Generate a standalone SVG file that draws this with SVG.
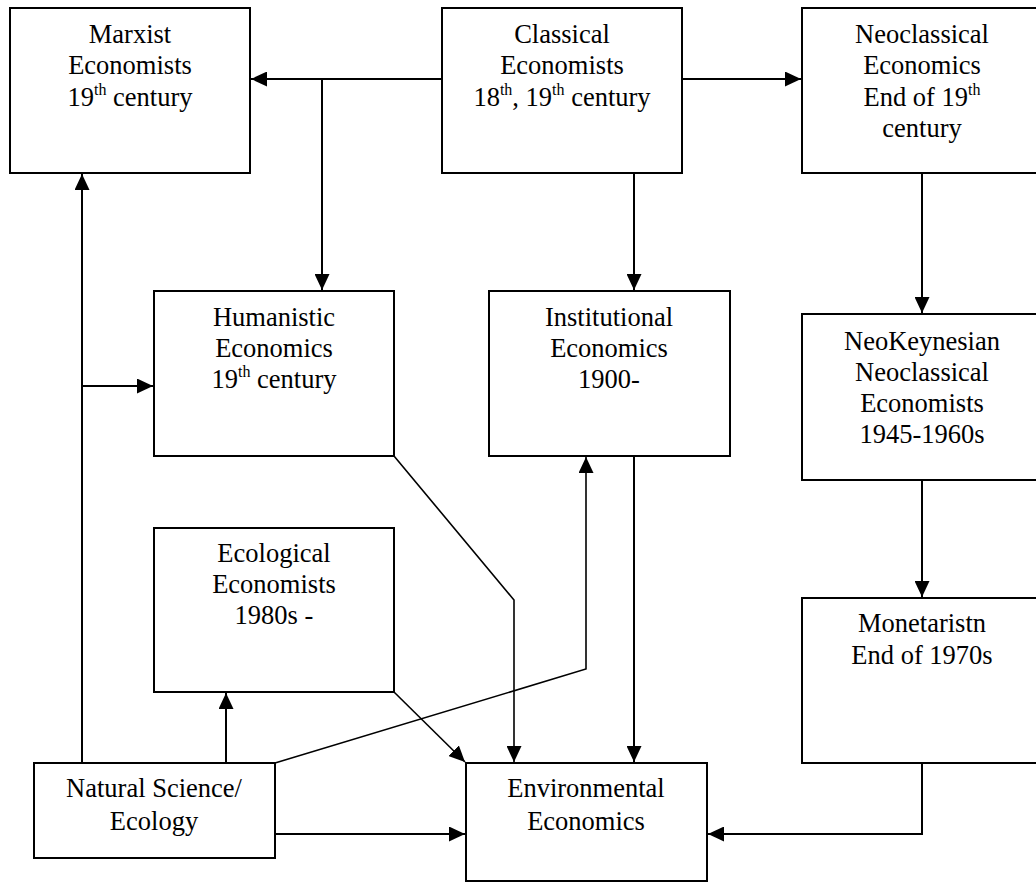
<svg xmlns="http://www.w3.org/2000/svg" width="1036" height="882" viewBox="0 0 1036 882">
<style>
.box{fill:#fff;stroke:#000;stroke-width:2}
.lbl{font-family:'Liberation Serif',serif;font-size:26.5px;fill:#000;text-anchor:middle}
.sup{font-size:16px}
.con{fill:none;stroke:#000;stroke-width:2}
.diag{fill:none;stroke:#000;stroke-width:1.6}
</style>
<defs>
<marker id="ah" markerUnits="userSpaceOnUse" markerWidth="16" markerHeight="15" refX="16" refY="7.5" orient="auto" viewBox="0 0 16 15">
<path d="M0,0 L16,7.5 L0,15 z" fill="#000"/>
</marker>
</defs>
<rect width="1036" height="882" fill="#fff"/>
<g id="connectors">
<path class="con" d="M442,79 H251" marker-end="url(#ah)"/>
<path class="con" d="M322,79 V290" marker-end="url(#ah)"/>
<path class="con" d="M682,79 H801" marker-end="url(#ah)"/>
<path class="con" d="M634,173 V290" marker-end="url(#ah)"/>
<path class="con" d="M922,173 V313" marker-end="url(#ah)"/>
<path class="con" d="M922,480 V597" marker-end="url(#ah)"/>
<path class="con" d="M922,763 V834 H708" marker-end="url(#ah)"/>
<path class="con" d="M82,763 V174" marker-end="url(#ah)"/>
<path class="con" d="M82,386 H153" marker-end="url(#ah)"/>
<path class="con" d="M226,763 V693" marker-end="url(#ah)"/>
<path class="diag" d="M275,763 L586,669 V457" marker-end="url(#ah)"/>
<path class="diag" d="M394,456 L514,600 V762" marker-end="url(#ah)"/>
<path class="diag" d="M394,692 L465,762" marker-end="url(#ah)"/>
<path class="con" d="M275,834 H465" marker-end="url(#ah)"/>
<path class="con" d="M634,456 V762" marker-end="url(#ah)"/>
</g>
<g id="marxist">
<rect class="box" x="10" y="8" width="240" height="165"/>
<text class="lbl" x="130" y="43">Marxist</text>
<text class="lbl" x="130" y="74">Economists</text>
<text class="lbl" x="130" y="106">19<tspan class="sup" dy="-11">th</tspan><tspan dy="11"> century</tspan></text>
</g>
<g id="classical">
<rect class="box" x="442" y="8" width="240" height="165"/>
<text class="lbl" x="562" y="43">Classical</text>
<text class="lbl" x="562" y="74">Economists</text>
<text class="lbl" x="562" y="106">18<tspan class="sup" dy="-11">th</tspan><tspan dy="11">, 19</tspan><tspan class="sup" dy="-11">th</tspan><tspan dy="11"> century</tspan></text>
</g>
<g id="neoclassical">
<rect class="box" x="802" y="8" width="240" height="165"/>
<text class="lbl" x="922" y="43">Neoclassical</text>
<text class="lbl" x="922" y="74">Economics</text>
<text class="lbl" x="922" y="106">End of 19<tspan class="sup" dy="-11">th</tspan></text>
<text class="lbl" x="922" y="137">century</text>
</g>
<g id="humanistic">
<rect class="box" x="154" y="291" width="240" height="165"/>
<text class="lbl" x="274" y="326">Humanistic</text>
<text class="lbl" x="274" y="357">Economics</text>
<text class="lbl" x="274" y="388">19<tspan class="sup" dy="-11">th</tspan><tspan dy="11"> century</tspan></text>
</g>
<g id="institutional">
<rect class="box" x="489" y="291" width="241" height="165"/>
<text class="lbl" x="609" y="326">Institutional</text>
<text class="lbl" x="609" y="357">Economics</text>
<text class="lbl" x="609" y="388">1900-</text>
</g>
<g id="neokeynesian">
<rect class="box" x="802" y="314" width="240" height="166"/>
<text class="lbl" x="922" y="350">NeoKeynesian</text>
<text class="lbl" x="922" y="381">Neoclassical</text>
<text class="lbl" x="922" y="412">Economists</text>
<text class="lbl" x="922" y="443">1945-1960s</text>
</g>
<g id="ecological">
<rect class="box" x="154" y="528" width="240" height="164"/>
<text class="lbl" x="274" y="562">Ecological</text>
<text class="lbl" x="274" y="593">Economists</text>
<text class="lbl" x="274" y="624">1980s -</text>
</g>
<g id="monetarist">
<rect class="box" x="802" y="598" width="240" height="165"/>
<text class="lbl" x="922" y="632">Monetaristn</text>
<text class="lbl" x="922" y="664">End of 1970s</text>
</g>
<g id="natural">
<rect class="box" x="34" y="763" width="241" height="95"/>
<text class="lbl" x="154" y="797">Natural Science/</text>
<text class="lbl" x="154" y="830">Ecology</text>
</g>
<g id="environmental">
<rect class="box" x="466" y="763" width="241" height="118"/>
<text class="lbl" x="586" y="797">Environmental</text>
<text class="lbl" x="586" y="830">Economics</text>
</g>
</svg>
